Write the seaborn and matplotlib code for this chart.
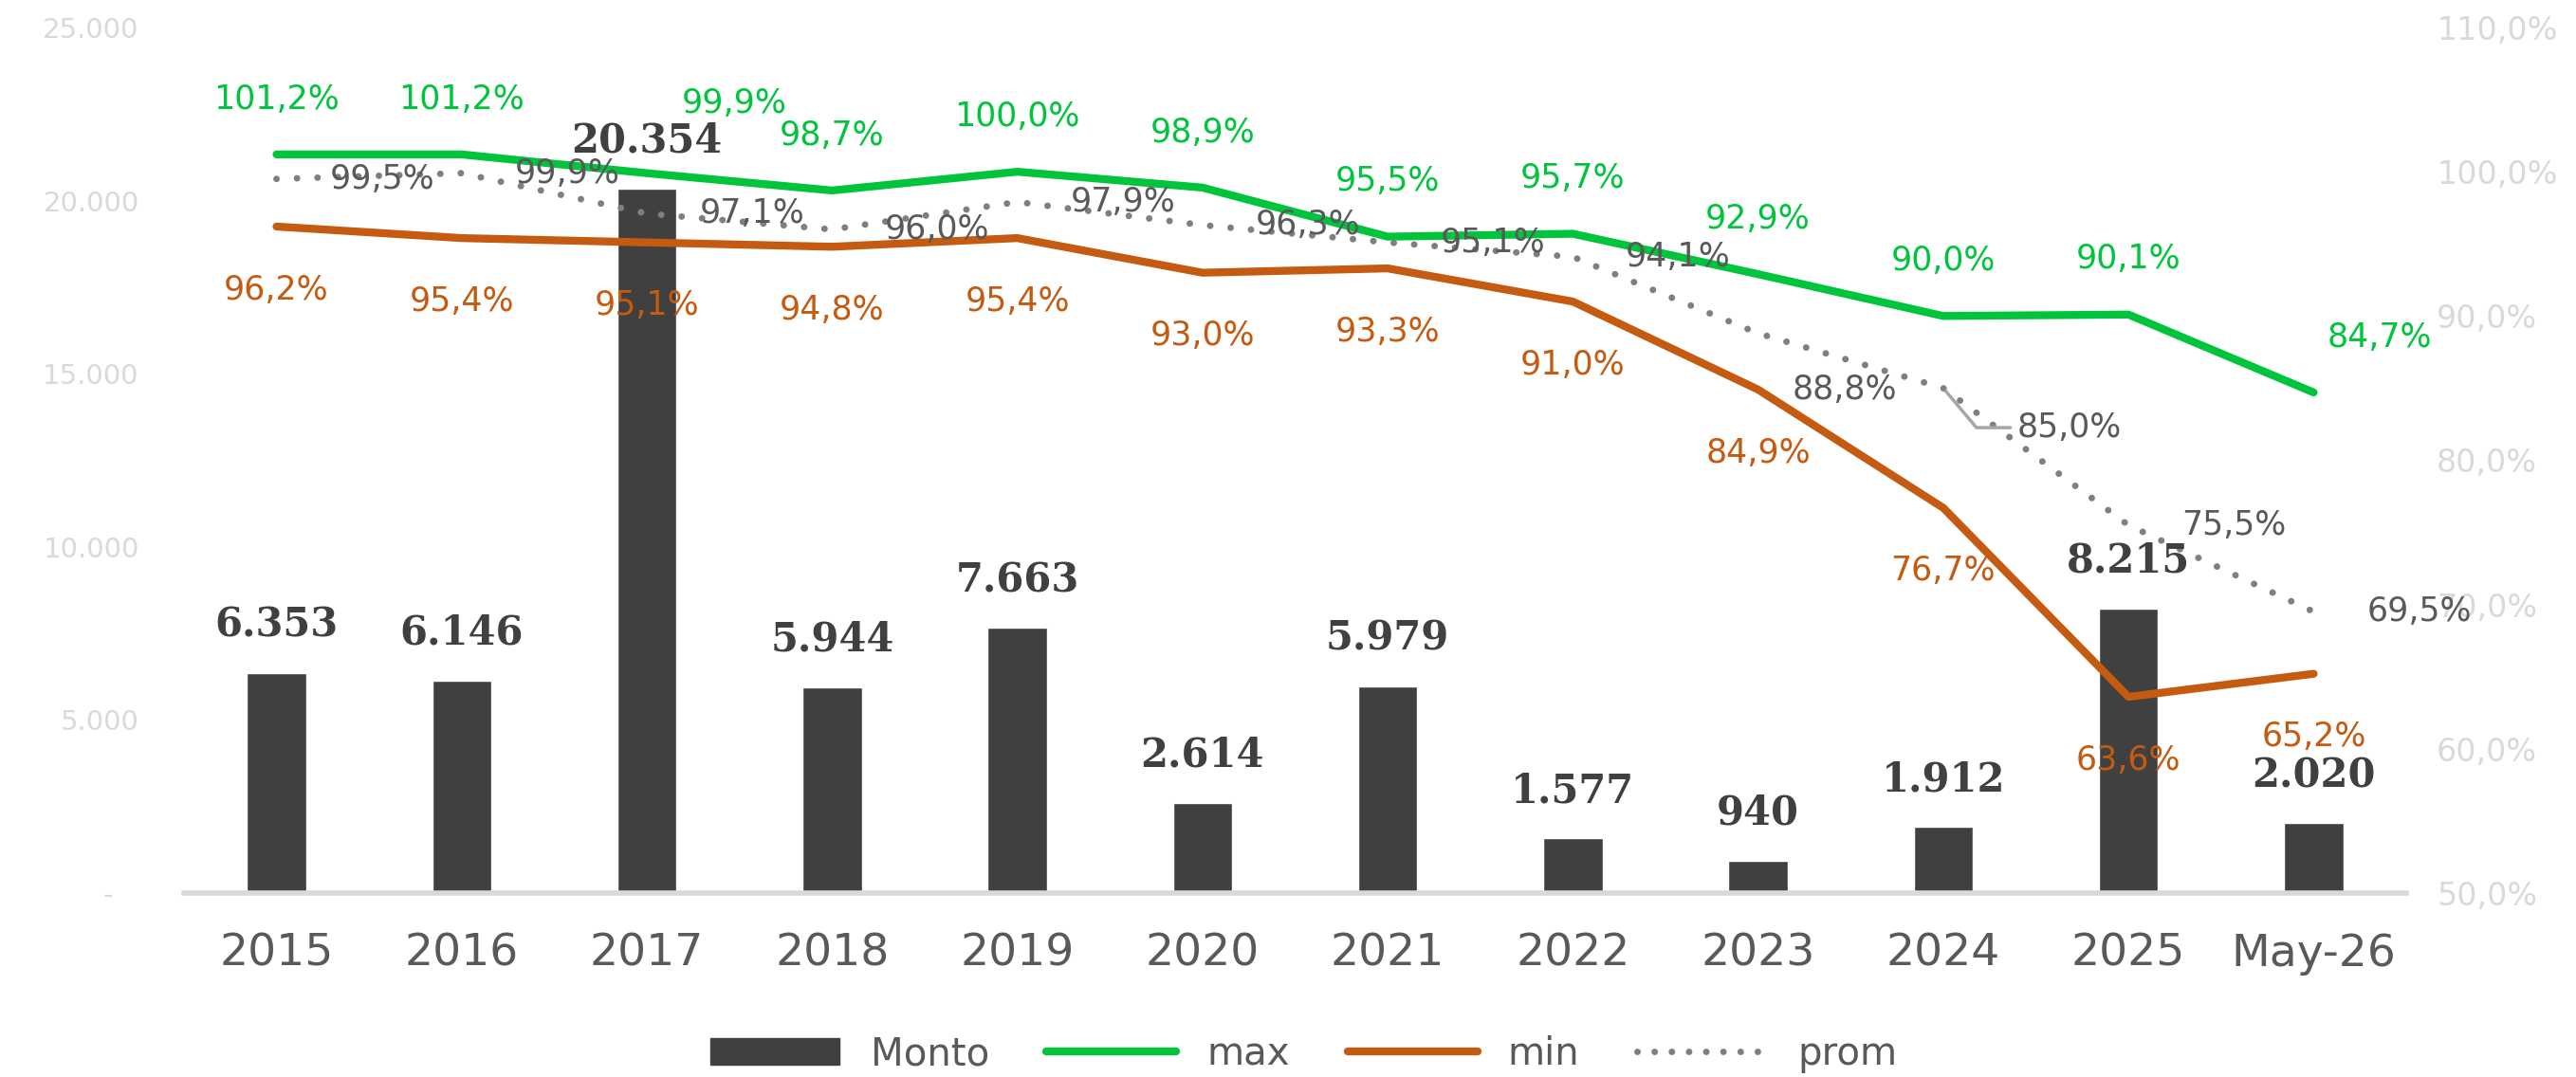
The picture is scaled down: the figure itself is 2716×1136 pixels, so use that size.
import numpy as np
import pandas as pd
import matplotlib.pyplot as plt
import seaborn as sns
from matplotlib.patches import Patch
from matplotlib.lines import Line2D


# data
years = ["2015", "2016", "2017", "2018", "2019", "2020", "2021", "2022", "2023", "2024", "2025", "May-26"]
monto = [6353, 6146, 20354, 5944, 7663, 2614, 5979, 1577, 940, 1912, 8215, 2020]
pct_max = [101.2, 101.2, 99.9, 98.7, 100.0, 98.9, 95.5, 95.7, 92.9, 90.0, 90.1, 84.7]
pct_min = [96.2, 95.4, 95.1, 94.8, 95.4, 93.0, 93.3, 91.0, 84.9, 76.7, 63.6, 65.2]
pct_prom = [99.5, 99.9, 97.1, 96.0, 97.9, 96.3, 95.1, 94.1, 88.8, 85.0, 75.5, 69.5]

BAR = "#404040"
GREEN = "#00C53C"
ORANGE = "#C55A11"
GRAY = "#7F7F7F"
TXT = "#595959"
AXIS_TXT = "#D9D9D9"

sns.set_style("white")
plt.rcParams["font.family"] = ["DejaVu Sans"]

df = pd.DataFrame({"year": years, "monto": monto, "max": pct_max,
                   "min": pct_min, "prom": pct_prom})
df["pos"] = np.arange(len(df))

fig = plt.figure(figsize=(27.16, 11.36), dpi=100)
ax = fig.add_axes([0.0714, 0.1708, 0.8627, 0.8037])

# bars
sns.barplot(data=df, x="year", y="monto", color=BAR, saturation=1, width=0.32, ax=ax)
ax.set_ylim(0, 25000)
ax.set_xlim(-0.5, len(df) - 0.5)
ax.set_xlabel("")
ax.set_ylabel("")
left_ticks = [0, 5000, 10000, 15000, 20000, 25000]
ax.set_yticks(left_ticks)
ax.set_yticklabels(["-   " if t == 0 else f"{t:,}".replace(",", ".") for t in left_ticks])
ax.tick_params(axis="y", length=0, labelsize=21, labelcolor=AXIS_TXT, pad=34)
ax.tick_params(axis="x", length=0, labelsize=34, labelcolor=TXT, pad=30)
for s in ["top", "right", "left"]:
    ax.spines[s].set_visible(False)
ax.spines["bottom"].set_color("#D9D9D9")
ax.spines["bottom"].set_linewidth(4)

# lines on the right axis
ax2 = ax.twinx()
sns.lineplot(data=df, x="pos", y="max", color=GREEN, lw=6, ax=ax2, solid_capstyle="round")
sns.lineplot(data=df, x="pos", y="min", color=ORANGE, lw=6, ax=ax2, solid_capstyle="round")
sns.lineplot(data=df, x="pos", y="prom", color=GRAY, lw=5, ax=ax2,
             linestyle=(0, (0.01, 3.1)), dash_capstyle="round")
ax2.set_ylim(50, 110)
ax2.set_xlim(-0.5, len(df) - 0.5)
ax2.set_xlabel("")
ax2.set_ylabel("")
right_ticks = [50, 60, 70, 80, 90, 100, 110]
ax2.set_yticks(right_ticks)
ax2.set_yticklabels([f"{t:.1f}%".replace(".", ",") for t in right_ticks])
ax2.tick_params(axis="y", length=0, labelsize=24, labelcolor=AXIS_TXT, pad=23)
for s in ax2.spines.values():
    s.set_visible(False)


def pct(v):
    return f"{v:.1f}%".replace(".", ",")


# bar labels
for i, v in enumerate(monto):
    ax2.annotate(f"{v:,}".replace(",", "."), xy=(i, v), xycoords=ax.transData,
                 xytext=(0, 36), textcoords="offset points", ha="center", va="center",
                 fontsize=30, fontweight="bold", family="DejaVu Serif", color=BAR)

# max labels
max_off = {2: (66, 53), 11: (50, 42)}
for i, v in enumerate(pct_max):
    ax2.annotate(pct(v), xy=(i, v), xytext=max_off.get(i, (0, 42)), textcoords="offset points",
                 ha="center", va="center", fontsize=25, color=GREEN)

# min labels
for i, v in enumerate(pct_min):
    ax2.annotate(pct(v), xy=(i, v), xytext=(0, -48), textcoords="offset points",
                 ha="center", va="center", fontsize=25, color=ORANGE)

# prom labels
prom_off = {8: (66, -43)}
for i, v in enumerate(pct_prom):
    if i == 9:
        ax2.annotate(pct(v), xy=(i, v), xytext=(96, -30), textcoords="offset points",
                     ha="center", va="center", fontsize=25, color=TXT,
                     arrowprops=dict(arrowstyle="-", color="#A6A6A6", lw=2.5, relpos=(0, 0.5),
                                     shrinkA=3, shrinkB=3,
                                     connectionstyle="angle,angleA=0,angleB=-50,rad=0"))
        continue
    ax2.annotate(pct(v), xy=(i, v), xytext=prom_off.get(i, (80, 0)), textcoords="offset points",
                 ha="center", va="center", fontsize=25, color=TXT)

# legend
handles = [
    Patch(facecolor=BAR, edgecolor=BAR),
    Line2D([], [], color=GREEN, lw=6),
    Line2D([], [], color=ORANGE, lw=6),
    Line2D([], [], color=GRAY, lw=5, linestyle=(0, (0.01, 2.6)), dash_capstyle="round"),
]
fig.legend(handles, ["Monto", "max", "min", "prom"], loc="center",
           bbox_to_anchor=(0.506, 0.021), ncol=4, frameon=False, fontsize=29,
           labelcolor=TXT, handlelength=3.4, handletextpad=0.8, columnspacing=1.5)

fig.savefig("out.png", dpi=100)
